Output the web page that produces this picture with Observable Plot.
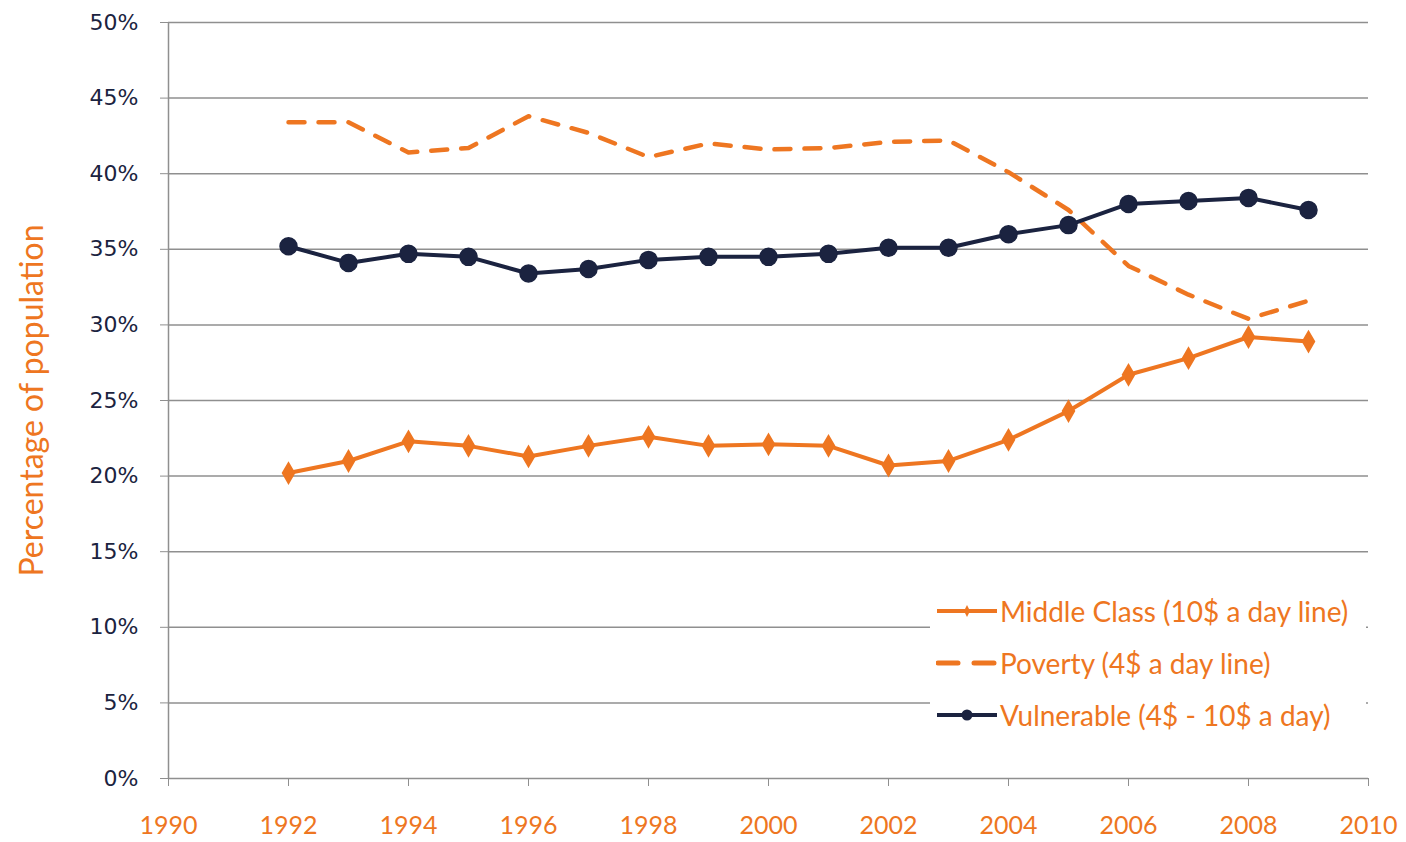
<!DOCTYPE html>
<html>
<head>
<meta charset="utf-8">
<script src="https://cdn.jsdelivr.net/npm/d3@7"></script>
<script src="https://cdn.jsdelivr.net/npm/@observablehq/plot@0.6"></script>
<style>
  html, body { margin: 0; padding: 0; background: #fff; }
  #wrap { position: relative; width: 1406px; height: 842px; }
  #legend { position: absolute; left: 930px; top: 588px; width: 436px; height: 152px; background: #fff;
            font-family: Lato, "Open Sans", sans-serif; font-size: 28px; color: #EE7621; }
  .item { position: absolute; left: 6px; height: 32px; display: flex; align-items: center; white-space: nowrap; }
  .item svg { width: 62px; height: 20px; margin-right: 2px; }
</style>
</head>
<body>
<div id="wrap">
  <div id="chart"></div>
  <div id="legend"></div>
</div>
<script>
const years = [1992,1993,1994,1995,1996,1997,1998,1999,2000,2001,2002,2003,2004,2005,2006,2007,2008,2009];
const middleClass = [20.2,21.0,22.3,22.0,21.3,22.0,22.6,22.0,22.1,22.0,20.7,21.0,22.4,24.3,26.7,27.8,29.2,28.9];
const poverty     = [43.4,43.4,41.4,41.7,43.8,42.7,41.1,42.0,41.6,41.7,42.1,42.2,40.1,37.6,33.9,32.0,30.4,31.6];
const vulnerable  = [35.2,34.1,34.7,34.5,33.4,33.7,34.3,34.5,34.5,34.7,35.1,35.1,36.0,36.6,38.0,38.2,38.4,37.6];
const seriesNames = ["Middle Class (10$ a day line)", "Poverty (4$ a day line)", "Vulnerable (4$ - 10$ a day)"];
const xTicks = [1990,1992,1994,1996,1998,2000,2002,2004,2006,2008,2010];
const yTicks = [0,5,10,15,20,25,30,35,40,45,50];
const yLabel = "Percentage of population";

const ORANGE = "#EE7621";
const NAVY = "#1B2340";
const GRID = "#8f8f8f";

const mc = years.map((y,i) => ({year:y, value: middleClass[i]}));
const pv = years.map((y,i) => ({year:y, value: poverty[i]}));
const vu = years.map((y,i) => ({year:y, value: vulnerable[i]}));

const chart = Plot.plot({
  width: 1406, height: 842,
  marginLeft: 168, marginRight: 38, marginTop: 22, marginBottom: 64,
  x: {domain: [1990, 2010]},
  y: {domain: [0, 50]},
  style: {background: "#fff"},
  marks: [
    Plot.gridY(yTicks, {stroke: GRID, strokeOpacity: 1, strokeWidth: 1.5}),
    Plot.ruleX([1990], {stroke: GRID, strokeWidth: 1.5}),
    Plot.axisY({ticks: yTicks, tickFormat: d => d + "%", tickSize: 8, tickPadding: 22,
      stroke: GRID, fill: NAVY, fontSize: 22, fontFamily: "DejaVu Sans", label: null}),
    Plot.axisX({ticks: xTicks, tickFormat: d => String(d), tickSize: 8, tickPadding: 30,
      stroke: GRID, fill: ORANGE, fontSize: 25, fontFamily: "Lato", label: null}),
    Plot.text([yLabel], {frameAnchor: "left", textAnchor: "middle", rotate: -90, dx: -136, fill: ORANGE,
      fontSize: 32, fontFamily: "Lato"}),
    Plot.lineY(pv, {x: "year", y: "value", stroke: ORANGE, strokeWidth: 4.5, strokeDasharray: "16,14"}),
    Plot.lineY(vu, {x: "year", y: "value", stroke: NAVY, strokeWidth: 4}),
    Plot.dot(vu, {x: "year", y: "value", r: 8.5, fill: NAVY, stroke: NAVY}),
    Plot.lineY(mc, {x: "year", y: "value", stroke: ORANGE, strokeWidth: 4}),
    Plot.dot(mc, {x: "year", y: "value", symbol: "diamond", r: 6, fill: ORANGE, stroke: ORANGE, strokeWidth: 2})
  ]
});
document.getElementById("chart").appendChild(chart);

// Legend
const legend = document.getElementById("legend");
const samples = [
  `<svg viewBox="0 0 62 20"><line x1="1" y1="10" x2="61" y2="10" stroke="${ORANGE}" stroke-width="4"/><path d="M31 4 L34 10 L31 16 L28 10Z" fill="${ORANGE}"/></svg>`,
  `<svg viewBox="0 0 62 20"><line x1="2" y1="10" x2="60" y2="10" stroke="${ORANGE}" stroke-width="5" stroke-dasharray="20,16" stroke-linecap="round"/></svg>`,
  `<svg viewBox="0 0 62 20"><line x1="1" y1="10" x2="61" y2="10" stroke="${NAVY}" stroke-width="4"/><circle cx="31" cy="10" r="5.5" fill="${NAVY}"/></svg>`
];
const tops = [7, 59, 111];
seriesNames.forEach((name, i) => {
  const d = document.createElement("div");
  d.className = "item";
  d.style.top = tops[i] + "px";
  d.innerHTML = samples[i] + `<span>${name}</span>`;
  legend.appendChild(d);
});
</script>
</body>
</html>
